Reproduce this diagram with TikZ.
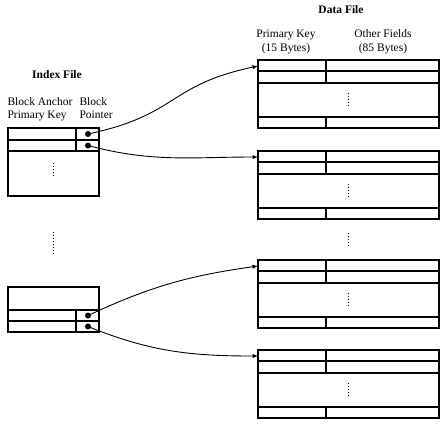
\documentclass[tikz,border=0pt]{standalone}
\usepackage{fontspec}
\setmainfont{Liberation Serif}
\usepackage{tikz}
\tikzset{
  ptr/.style={circle,fill=black,inner sep=0pt,minimum size=6pt},
  ptrline/.style={-latex,line width=.9pt},
  vdotline/.style={line width=1pt,dash pattern=on 1pt off 2pt},
  lab/.style={inner sep=0pt,anchor=base west}
}
% data block: #1 = top edge, #2 = name of entry point
\newcommand{\datablk}[2]{
\draw (258,#1) rectangle (439,#1+68);
\draw (258,#1+11) -- (439,#1+11);
\draw (258,#1+23) -- (439,#1+23);
\draw (258,#1+57) -- (439,#1+57);
\draw (326,#1) -- (326,#1+23);
\draw (326,#1+57) -- (326,#1+68);
\draw[vdotline] (348,#1+33) -- (348,#1+47);
\coordinate (#2) at (258,#1+6);
}

\begin{document}
\begin{tikzpicture}[x=1pt,y=-1pt,line width=1.1pt,font=\fontsize{11.5}{13}\selectfont]
\useasboundingbox (0,0) rectangle (443,432);
% index file
\node[font=\fontsize{11.5}{13}\selectfont\bfseries] (ixtitle) at (57,75) {Index File};
\node[lab] (anchor1) at (7,105) {Block Anchor};
\node[lab] (anchor2) at (7,118) {Primary Key};
\node[lab] (bptr1) at (79,105) {Block};
\node[lab] (bptr2) at (79,118) {Pointer};
\draw (8,128) rectangle (99,196);
\draw (8,140) -- (99,140);
\draw (8,151) -- (99,151);
\draw (76,128) -- (76,151);
\draw[vdotline] (53,163) -- (53,178);
\node[ptr] (p1) at (88,134) {};
\node[ptr] (p2) at (88,145.5) {};
\draw[vdotline] (53,232) -- (53,255);
\draw (8,287) rectangle (99,332);
\draw (8,310) -- (99,310);
\draw (8,321) -- (99,321);
\draw (76,310) -- (76,332);
\node[ptr] (p3) at (88,315.5) {};
\node[ptr] (p4) at (88,326.5) {};
% data file
\node[font=\fontsize{11.5}{13}\selectfont\bfseries] (dtitle) at (341,10) {Data File};
\node[lab,anchor=base] (pkey1) at (286,37) {Primary Key};
\node[lab,anchor=base] (pkey2) at (286,51) {(15 Bytes)};
\node[lab,anchor=base] (other1) at (383,37) {Other Fields};
\node[lab,anchor=base] (other2) at (383,51) {(85 Bytes)};
\datablk{60}{d1}
\datablk{151}{d2}
\datablk{260}{d3}
\datablk{350}{d4}
\draw[vdotline] (348,233) -- (348,247);
% pointers
\draw[ptrline] (p1.center) to[out=12,in=192,looseness=1.3] (d1);
\draw[ptrline] (p2.center) to[out=-15,in=180] (d2);
\draw[ptrline] (p3.center) to[out=25,in=188] (d3);
\draw[ptrline] (p4.center) to[out=-22,in=180] (d4);
\end{tikzpicture}
\end{document}
